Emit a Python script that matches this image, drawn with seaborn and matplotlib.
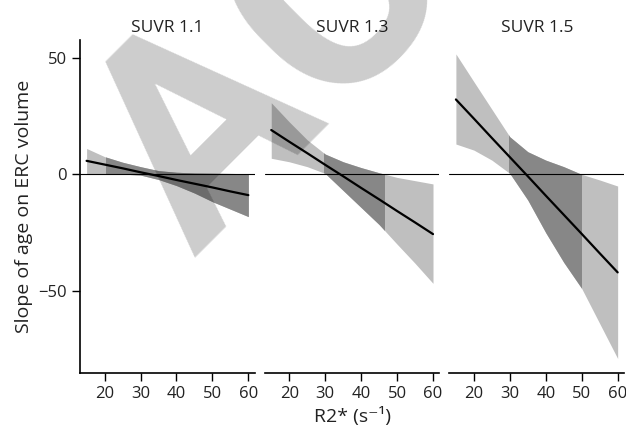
import numpy as np
import pandas as pd
import seaborn as sns
import matplotlib.pyplot as plt
from matplotlib.patches import Rectangle

# R2* grid where the fitted slope and its band were read
r2 = [15, 20, 25, 30, 35, 40, 45, 50, 55, 60]

panels = ["SUVR 1.1", "SUVR 1.3", "SUVR 1.5"]

fit_11 = [5.8, 4.2, 2.6, 0.9, -0.7, -2.4, -4.0, -5.6, -7.3, -8.9]
upper_11 = [11.1, 7.6, 5.2, 3.3, 1.6, 0.9, 0.6, 0.5, 0.4, 0.3]
lower_11 = [0.2, 0.2, 0.1, -0.3, -2.2, -4.8, -8.0, -11.7, -14.9, -18.1]

fit_13 = [19.0, 14.0, 9.1, 4.1, -0.8, -5.8, -10.7, -15.7, -20.6, -25.6]
upper_13 = [30.7, 22.5, 14.8, 8.7, 5.4, 2.9, 0.7, -1.3, -2.7, -4.1]
lower_13 = [6.9, 5.4, 3.3, 0.4, -6.9, -14.2, -21.5, -29.9, -38.1, -46.7]

fit_15 = [32.1, 23.9, 15.6, 7.4, -0.8, -9.1, -17.3, -25.5, -33.8, -42.0]
upper_15 = [51.6, 39.7, 27.9, 16.1, 9.7, 6.1, 3.3, 0.0, -2.4, -5.0]
lower_15 = [13.0, 10.4, 6.1, 0.4, -11.0, -25.0, -37.7, -48.9, -63.9, -78.9]

# observed R2* range per group (darker band)
obs_lo = [20.3, 29.7, 29.7]
obs_hi = [60.0, 46.3, 49.9]

fits = [fit_11, fit_13, fit_15]
uppers = [upper_11, upper_13, upper_15]
lowers = [lower_11, lower_13, lower_15]

rows = []
for name, f in zip(panels, fits):
    for x, y in zip(r2, f):
        rows.append({"panel": name, "R2": x, "slope": y})
df = pd.DataFrame(rows)

sns.set_theme(style="ticks")
plt.rcParams["font.family"] = ["Open Sans", "DejaVu Sans"]

fig, axes = plt.subplots(1, 3, figsize=(6.26, 4.25), dpi=100, sharey=True)
fig.subplots_adjust(left=0.128, right=0.997, bottom=0.123, top=0.906, wspace=0.057)

for i, ax in enumerate(axes):
    name = panels[i]
    ax.fill_between(r2, lowers[i], uppers[i], color="#bfbfbf", lw=0, zorder=1)
    dark = ax.fill_between(r2, lowers[i], uppers[i], color="#878787", lw=0, zorder=2)
    clip = Rectangle((obs_lo[i], -200), obs_hi[i] - obs_lo[i], 400, transform=ax.transData)
    dark.set_clip_path(clip)
    ax.axhline(0, color="black", lw=0.8, zorder=3)
    sns.lineplot(data=df[df["panel"] == name], x="R2", y="slope", color="black",
                 lw=1.6, ax=ax, zorder=4)
    ax.set_title(name, fontsize=12.5, pad=6, color="#222222")
    ax.set_xlim(13.2, 61.8)
    ax.set_xticks([20, 30, 40, 50, 60])
    ax.set_xlabel("")
    ax.set_ylabel("")
    ax.tick_params(axis="both", labelsize=12, length=6, width=1, color="black",
                   labelcolor="#222222")
    for s in ax.spines.values():
        s.set_color("black")
        s.set_linewidth(1.2)
    if i == 0:
        sns.despine(ax=ax)
    else:
        sns.despine(ax=ax, left=True)
        ax.tick_params(axis="y", left=False)

axes[0].set_ylim(-85, 57.6)
axes[0].set_yticks([-50, 0, 50])
axes[0].set_yticklabels(["\u221250", "0", "50"])
axes[0].set_ylabel("Slope of age on ERC volume", fontsize=14, color="#222222", labelpad=4)
axes[1].set_xlabel("R2* (s\u207b\u00b9)", fontsize=14, color="#222222", labelpad=4)

# journal watermark lying over the figure
fig.text(195 / 626, 1 - 258 / 425, "ACCEPTED", rotation=45, rotation_mode="anchor",
         ha="left", va="baseline", fontsize=205, fontweight="bold",
         family="Roboto", color="black", alpha=0.2)

plt.savefig("out.png", dpi=100)
